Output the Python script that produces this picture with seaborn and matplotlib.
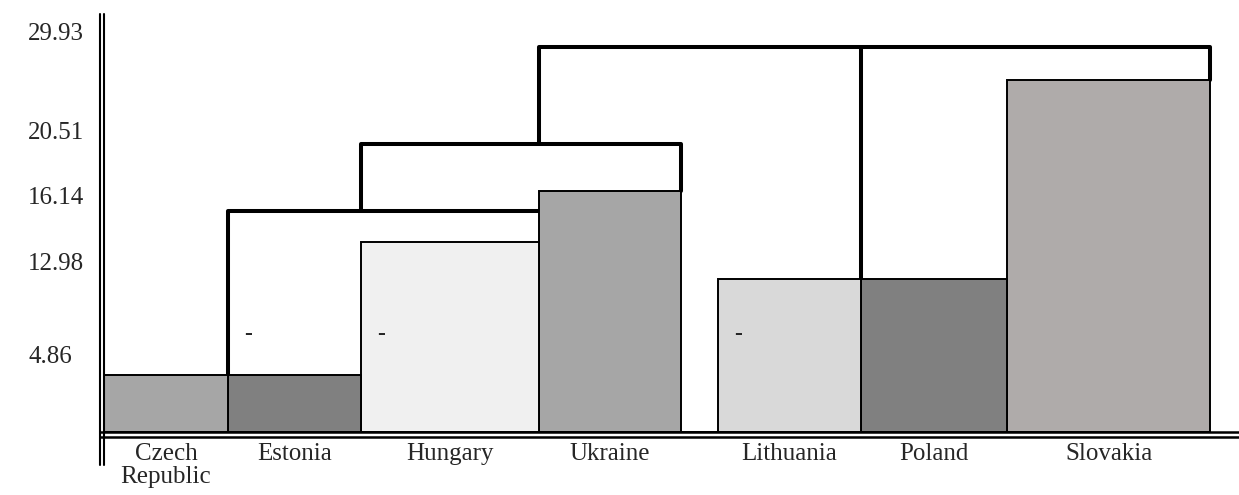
import matplotlib
matplotlib.use("Agg")
import matplotlib.pyplot as plt
from matplotlib.lines import Line2D
import seaborn as sns
import pandas as pd

# ============================
# DATOS
# ============================
countries = ["Czech\nRepublic", "Estonia", "Hungary", "Ukraine", "Lithuania", "Poland", "Slovakia"]
values = [4.86, 4.86, 16.14, 20.51, 12.98, 12.98, 29.93]
widths = [12.4, 13.3, 17.8, 14.2, 14.3, 14.6, 20.3]
colors = ["#a6a6a6", "#808080", "#f0f0f0", "#a6a6a6", "#d9d9d9", "#808080", "#afabaa"]
link_heights = [18.8, 24.5, 32.7]
ytick_labels = ["4.86", "12.98", "16.14", "20.51", "29.93"]
dash_bars = ["Estonia", "Hungary", "Lithuania"]

# layout
cluster_gap = 3.7
ytick_pos = [6.55, 14.54, 20.15, 25.68, 34.06]
dash_y = 8.25
W, H = 1239, 495

sns.set_style("white")
plt.rcParams["font.family"] = ["Liberation Serif", "DejaVu Serif"]

# bordes de las barras
lefts = []
x = 0
for i, w in enumerate(widths):
    lefts.append(x)
    x += w
    if countries[i] == "Ukraine":
        x += cluster_gap
rights = [l + w for l, w in zip(lefts, widths)]
bins = sorted(set(lefts + rights))
centers = [l + w / 2 for l, w in zip(lefts, widths)]

df = pd.DataFrame({"country": countries, "center": centers, "value": values})

fig = plt.figure(figsize=(W / 100, H / 100), dpi=100)
ax = fig.add_axes([104 / W, (H - 432) / H, (W - 104) / W, 418 / H])

sns.histplot(
    data=df, x="center", weights="value", bins=bins,
    hue="country", palette=dict(zip(countries, colors)),
    multiple="layer", alpha=1, edgecolor="black", linewidth=1.4,
    legend=False, ax=ax,
)

# dendrograma
idx = {c: i for i, c in enumerate(countries)}
h1, h2, h3 = link_heights
lw = 2.9
ax.plot([lefts[1], lefts[1], lefts[3]], [values[0], h1, h1], color="black", lw=lw, zorder=0.5)
ax.plot([lefts[2], lefts[2], rights[3], rights[3]], [h1, h2, h2, values[3]], color="black", lw=lw, zorder=0.5)
ax.plot([lefts[3], lefts[3], rights[6], rights[6]], [h2, h3, h3, values[6]], color="black", lw=lw, zorder=0.5)
ax.plot([lefts[5], lefts[5]], [h3, values[4]], color="black", lw=lw, zorder=0.5)

for name in dash_bars:
    ax.text(lefts[idx[name]] + 1.6, dash_y, "-", fontsize=17, fontweight="bold",
            ha="left", va="center", zorder=3)

ax.set_xlim(0, (W - 104) / 10)
ax.set_ylim(0, 418 / 11.76)
ax.set_xlabel("")
ax.set_ylabel("")
ax.set_xticks(centers, countries)
ax.set_yticks(ytick_pos, ytick_labels)
ax.tick_params(axis="x", length=0, pad=8, labelsize=18)
ax.tick_params(axis="y", length=0, pad=54.5, labelsize=18)
for t in ax.get_yticklabels():
    t.set_horizontalalignment("left")
for t in ax.get_xticklabels():
    t.set_linespacing(1.05)
    t.set_verticalalignment("top")
for s in ax.spines.values():
    s.set_visible(False)

# ejes dobles
for xp in (100, 104):
    fig.add_artist(Line2D([xp / W, xp / W], [(H - 14) / H, (H - 465) / H], color="black", lw=1.5))
for yp in (432, 437):
    fig.add_artist(Line2D([100 / W, 1], [(H - yp) / H, (H - yp) / H], color="black", lw=1.8))

fig.savefig("out.png", dpi=100)
